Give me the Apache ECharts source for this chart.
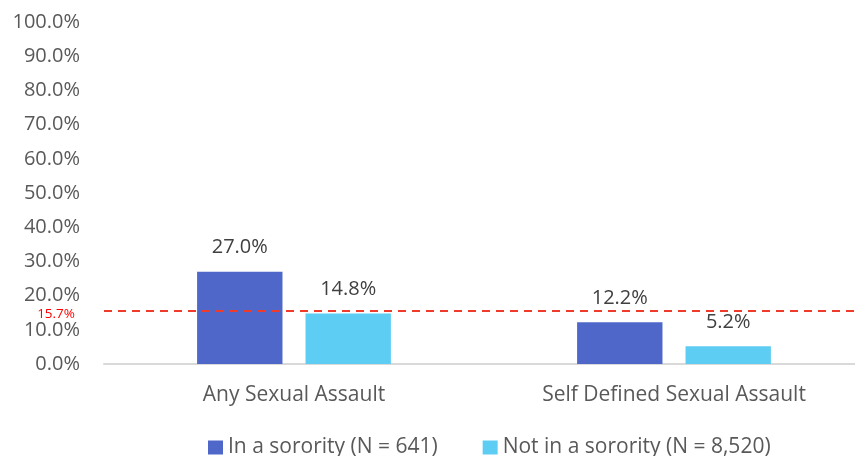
<!DOCTYPE html>
<html>
<head>
<meta charset="utf-8">
<script src="https://cdn.jsdelivr.net/npm/echarts@6/dist/echarts.min.js"></script>
<style>
html, body { margin: 0; padding: 0; background: #fff; }
#main { width: 855px; height: 456px; }
</style>
</head>
<body>
<div id="main"></div>
<script>
var categories = ['Any Sexual Assault', 'Self Defined Sexual Assault'];
var inSorority = [27.0, 12.2];
var notInSorority = [14.8, 5.2];
var overallRate = 15.7;

var chart = echarts.init(document.getElementById('main'));

var font = 'Open Sans';

function pct(v) { return v.toFixed(1) + '%'; }

var option = {
    animation: false,
    textStyle: { fontFamily: font },
    grid: {
        left: 104,
        width: 760,
        top: 22,
        bottom: 92,
        outerBoundsMode: 'none'
    },
    legend: {
        top: 437,
        left: 208,
        padding: 0,
        itemWidth: 15,
        itemHeight: 14,
        itemGap: 45,
        icon: 'rect',
        textStyle: { fontSize: 21, color: '#595959', fontFamily: font },
        data: ['In a sorority (N = 641)', 'Not in a sorority (N = 8,520)']
    },
    xAxis: {
        type: 'category',
        data: categories,
        axisLine: { lineStyle: { color: '#d9d9d9', width: 2 } },
        axisTick: { show: false },
        axisLabel: { fontSize: 21, color: '#595959', margin: 21, fontFamily: font }
    },
    yAxis: {
        type: 'value',
        min: 0,
        max: 100,
        interval: 10,
        axisLine: { show: false },
        axisTick: { show: false },
        splitLine: { show: false },
        axisLabel: {
            fontSize: 20,
            color: '#595959',
            margin: 24,
            fontFamily: font,
            formatter: pct
        }
    },
    series: [{
        name: 'In a sorority (N = 641)',
        type: 'bar',
        data: inSorority,
        barGap: '27%',
        barCategoryGap: '49%',
        itemStyle: { color: '#4e67c8' },
        label: {
            show: true,
            position: 'top',
            distance: 14,
            fontSize: 20,
            color: '#404040',
            fontFamily: font,
            formatter: function (p) { return pct(p.value); }
        },
        markLine: {
            silent: true,
            symbol: 'none',
            lineStyle: { color: '#ee3b2b', type: [8, 6], width: 2 },
            label: {
                show: true,
                position: 'start',
                distance: 29,
                verticalAlign: 'top',
                lineHeight: 8,
                fontSize: 13.5,
                color: '#ff0000',
                fontFamily: font,
                formatter: function (p) { return pct(p.value); }
            },
            data: [{ yAxis: overallRate }]
        }
    }, {
        name: 'Not in a sorority (N = 8,520)',
        type: 'bar',
        data: notInSorority,
        itemStyle: { color: '#5ecdf3' },
        label: {
            show: true,
            position: 'top',
            distance: 14,
            fontSize: 20,
            color: '#404040',
            fontFamily: font,
            formatter: function (p) { return pct(p.value); }
        }
    }]
};

chart.setOption(option);
</script>
</body>
</html>
